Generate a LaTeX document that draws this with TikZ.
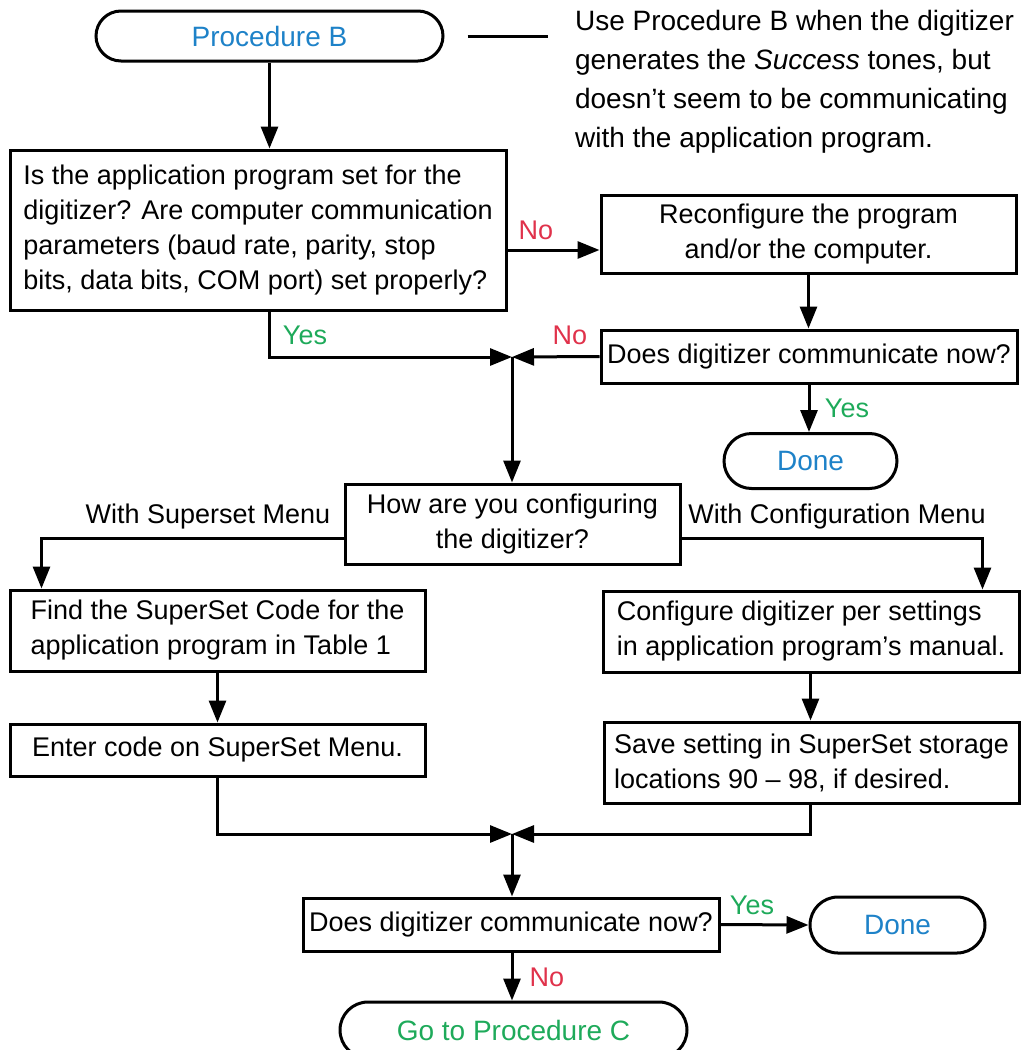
\documentclass[tikz,border=0pt]{standalone}
\usepackage{fontspec}
\setmainfont{Liberation Sans}
\usetikzlibrary{shapes.misc,arrows.meta}
\definecolor{procblue}{HTML}{1E82C8}
\definecolor{noRed}{HTML}{E0324B}
\definecolor{yesGreen}{HTML}{1EAA5A}

\begin{document}
\begin{tikzpicture}[x=0.5pt,y=-0.5pt,
  every node/.style={font=\fontsize{13.5}{17.5}\selectfont},
  stepbox/.style={draw, line width=1.5pt, rectangle, align=center, inner sep=0pt},
  endcap/.style={draw, line width=1.5pt, rounded rectangle, inner sep=0pt,
    font=\fontsize{14}{17.5}\selectfont},
  link/.style={line width=1.5pt, -{Triangle[length=11pt,width=8.5pt]}},
  plain/.style={line width=1.5pt},
  nolbl/.style={text=noRed},
  yeslbl/.style={text=yesGreen}]
  \useasboundingbox (0,0) rectangle (1023,1050);

  % top
  \node[endcap, minimum width=173.5pt, minimum height=25pt, text=procblue] (procB) at (269.5,36) {Procedure B};
  \draw[plain] ([xshift=11.5pt]procB.east) -- ++(80,0);
  \node[anchor=north west, align=left, font=\fontsize{14}{19.5}\selectfont] (note) at (568,3)
    {Use Procedure B when the digitizer\\generates the \textit{Success} tones, but\\doesn't seem to be communicating\\with the application program.};

  \node[stepbox, align=left, minimum width=248pt, minimum height=80pt] (askProg) at (258,230)
    {Is the application program set for the\\digitizer? Are computer communication\\parameters (baud rate, parity, stop\\bits, data bits, COM port) set properly?};
  \node[stepbox, minimum width=207.5pt, minimum height=39pt] (recon) at (808.5,234)
    {Reconfigure the program\\and/or the computer.};
  \node[stepbox, minimum width=208pt, minimum height=26.5pt] (askNow) at (809,356.5)
    {Does digitizer communicate now?};
  \node[endcap, minimum width=86.5pt, minimum height=27.5pt, text=procblue] (doneA) at (810.5,461) {Done};
  \coordinate (joinA) at (512,357);

  % middle
  \node[stepbox, minimum width=167.5pt, minimum height=40pt] (askHow) at (512.5,524)
    {How are you configuring\\the digitizer?};
  \node[stepbox, align=left, minimum width=207.5pt, minimum height=40.5pt] (findCode) at (217.5,630.5)
    {Find the SuperSet Code for the\\application program in Table 1};
  \node[stepbox, minimum width=207.5pt, minimum height=26pt] (enterCode) at (217.5,750)
    {Enter code on SuperSet Menu.};
  \node[stepbox, align=left, minimum width=208pt, minimum height=40.5pt] (configDig) at (811,631.5)
    {Configure digitizer per settings\\in application program's manual.};
  \node[stepbox, align=left, minimum width=207.5pt, minimum height=40.5pt] (saveSet) at (811.5,762.5)
    {Save setting in SuperSet storage\\locations 90 -- 98, if desired.};
  \coordinate (joinB) at (512,834);

  % bottom
  \node[stepbox, minimum width=208pt, minimum height=26.5pt] (askAgain) at (511,924.5)
    {Does digitizer communicate now?};
  \node[endcap, minimum width=87.5pt, minimum height=28pt, text=procblue] (doneB) at (897.5,925) {Done};
  \node[endcap, minimum width=173.5pt, minimum height=28pt, text=yesGreen] (goC) at (513.5,1030) {Go to Procedure C};

  % connectors
  \draw[link] (procB.south) -- (procB.south |- askProg.north);
  \draw[link] ([yshift=-8pt]recon.west -| askProg.east) -- ([yshift=-8pt]recon.west);
  \draw[link] (recon.south) -- (recon.south |- askNow.north);
  \draw[link] (procB.south |- askProg.south) |- (joinA);
  \draw[link] (askNow.west) -- (joinA);
  \draw[link] (askNow.south) -- (askNow.south |- doneA.north);
  \draw[link] (joinA) -- (joinA |- askHow.north);
  \draw[link] ([yshift=-7pt]askHow.west) -| ([xshift=16.5pt]findCode.north west);
  \draw[link] ([yshift=-7pt]askHow.east) -| ([xshift=-19pt]configDig.north east);
  \draw[link] (findCode.south) -- (enterCode.north);
  \draw[link] (configDig.south -| doneA) -- (saveSet.north -| doneA);
  \draw[link] (enterCode.south) |- (joinB);
  \draw[link] (saveSet.south -| doneA) |- (joinB);
  \draw[link] (joinB) -- (joinB |- askAgain.north);
  \draw[link] (askAgain.east) -- (doneB.west);
  \draw[link] (askAgain.south -| joinB) -- (joinB |- goC.north);

  % labels
  \node[nolbl] at (536,230) {No};
  \node[yeslbl] at (305,335) {Yes};
  \node[nolbl] at (570,335) {No};
  \node[yeslbl] at (847,408) {Yes};
  \node at (208,517) {With Superset Menu};
  \node at (837,517) {With Configuration Menu};
  \node[yeslbl] at (752,905) {Yes};
  \node[nolbl] at (547,977) {No};
\end{tikzpicture}
\end{document}
